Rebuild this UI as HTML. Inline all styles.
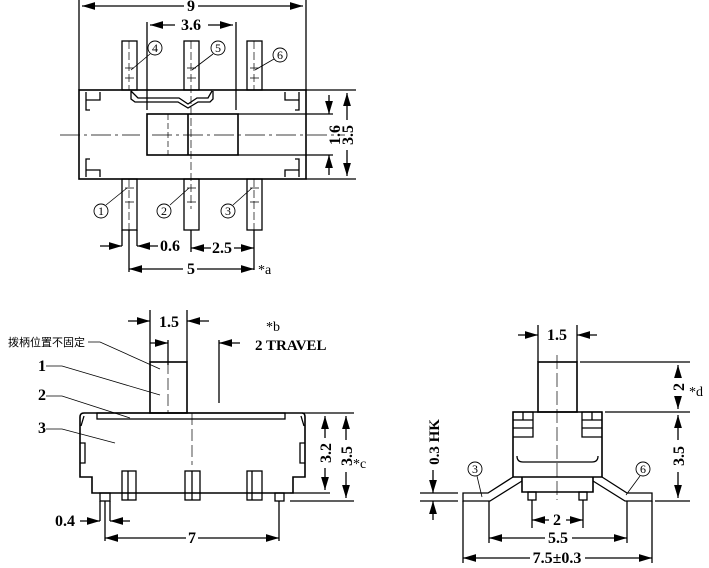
<!DOCTYPE html>
<html><head><meta charset="utf-8"><style>
body{margin:0;background:#fff}
svg{display:block}
text{font-family:"Liberation Serif","Noto Serif CJK SC",serif;font-weight:bold;font-size:16px;fill:#000}
.c{font-size:14px;font-weight:normal}
.cj{font-family:"Liberation Sans","Noto Sans CJK SC",sans-serif;font-size:11px;font-weight:normal}
.n{font-size:12px;font-weight:normal}
</style></head><body>
<svg width="709" height="568" viewBox="0 0 709 568" xmlns="http://www.w3.org/2000/svg">
<defs><marker id="a" viewBox="0 0 10 6" refX="10" refY="3" markerWidth="10" markerHeight="6" orient="auto-start-reverse"><path d="M0,0L10,3L0,6z" fill="#000"/></marker></defs>
<g stroke="#000" stroke-width="1.3" fill="none">
<!-- TOP VIEW -->
<rect x="79" y="90" width="227" height="89" stroke-width="1.6"/>
<rect x="147" y="114" width="91" height="41" stroke-width="1.6"/>
<line x1="188" y1="114" x2="188" y2="155" stroke-width="1.6"/>
<path d="M86,92v18h4M86,177v-18h4M299,92v18h-4M299,177v-18h-4M86,100h14v-8M86,170h14v7M299,100h-14v-8M299,170h-14v7"/>
<path d="M131,91v8l4,3h43l10,6l10,-6h12l3,-3v-8M131,91l7,7h41l9,6l9,-6h11l4,-7"/>
<g>
<rect x="122" y="41" width="15" height="49"/><rect x="184" y="41" width="15" height="49"/><rect x="247" y="41" width="15" height="49"/>
<rect x="122" y="179" width="15" height="51"/><rect x="184" y="179" width="15" height="51"/><rect x="247" y="179" width="15" height="51"/>
</g>
<path d="M129,41v49M191,41v168M254,41v49M129,179v51M254,179v51" stroke-width="0.7" stroke-dasharray="8,3"/>
<path d="M125,68h9M125,78h9M187,68h9M187,78h9M250,68h9M250,78h9M125,188h9M125,202h9M187,188h9M187,202h9M250,188h9M250,202h9" stroke-width="0.8"/>
<path d="M60,135h80M152,135h90M245,135h100" stroke-width="0.7" stroke-dasharray="20,4,3,4"/>
<line x1="168" y1="114" x2="168" y2="155" stroke-width="0.7" stroke-dasharray="6,3"/>
<!-- top dims -->
<path d="M79,0v90M306,0v90M147,22v88M236,22v88M306,90h50M306,179h50M238,114h95M238,155h95"/>
<line x1="82" y1="6" x2="184" y2="6" marker-start="url(#a)"/><line x1="198" y1="6" x2="303" y2="6" marker-end="url(#a)"/>
<line x1="150" y1="25" x2="175" y2="25" marker-start="url(#a)"/><line x1="208" y1="25" x2="233" y2="25" marker-end="url(#a)"/>
<line x1="329" y1="95" x2="329" y2="114" marker-end="url(#a)"/><line x1="329" y1="175" x2="329" y2="155" marker-end="url(#a)"/>
<line x1="347" y1="93" x2="347" y2="120" marker-start="url(#a)"/><line x1="347" y1="150" x2="347" y2="176" marker-end="url(#a)"/>
<path d="M122,230v16M137,230v16M191,230v22M254,230v40M129,230v42"/>
<line x1="100" y1="246" x2="122" y2="246" marker-end="url(#a)"/><line x1="158" y1="246" x2="137" y2="246" marker-end="url(#a)"/>
<line x1="211" y1="248" x2="191" y2="248" marker-end="url(#a)"/><line x1="234" y1="248" x2="254" y2="248" marker-end="url(#a)"/>
<line x1="183" y1="269" x2="129" y2="269" marker-end="url(#a)"/><line x1="197" y1="269" x2="254" y2="269" marker-end="url(#a)"/>
<!-- leaders -->
<path d="M150,54l-19,16M213,54l-21,16M274,59l-19,11M106,205l21,-17M170,205l19,-17M233,205l19,-17" stroke-width="0.8"/>
<circle cx="155" cy="48" r="7" stroke-width="0.9"/><circle cx="218" cy="48" r="7" stroke-width="0.9"/><circle cx="280" cy="55" r="7" stroke-width="0.9"/>
<circle cx="101" cy="211" r="7" stroke-width="0.9"/><circle cx="164" cy="211" r="7" stroke-width="0.9"/><circle cx="228" cy="211" r="7" stroke-width="0.9"/>

<!-- SIDE VIEW -->
<path d="M84,413h218q3,0 3,4v60h-12v16h-201v-16h-12v-60q0,-4 4,-4z" stroke-width="1.6"/>
<rect x="97" y="413" width="188" height="6"/>
<rect x="150" y="362" width="37" height="51" stroke-width="1.6"/>
<path d="M80,443h5v20h-5M305,443h-5v20h5M84,416l-3,10M301,416l3,10"/>
<rect x="122" y="471" width="14" height="29"/><rect x="185" y="471" width="15" height="29"/><rect x="247" y="471" width="15" height="29"/>
<path d="M128,471v29M252,471v29M192,471v29"/>
<rect x="100" y="493" width="10" height="8"/><rect x="275" y="493" width="9" height="8"/>
<line x1="192" y1="413" x2="192" y2="465" stroke-width="0.7" stroke-dasharray="12,4"/>
<line x1="168" y1="362" x2="168" y2="413" stroke-width="0.7" stroke-dasharray="12,4"/>
<path d="M150,310v52M187,310v52M219,340v63M168,340v25"/>
<line x1="128" y1="321" x2="150" y2="321" marker-end="url(#a)"/><line x1="209" y1="321" x2="187" y2="321" marker-end="url(#a)"/>
<line x1="150" y1="343" x2="168" y2="343" marker-end="url(#a)"/><line x1="240" y1="343" x2="219" y2="343" marker-end="url(#a)"/>
<path d="M302,413h52M290,493h40M290,501h64"/>
<line x1="325" y1="416" x2="325" y2="438" marker-start="url(#a)"/><line x1="325" y1="468" x2="325" y2="490" marker-end="url(#a)"/>
<line x1="346" y1="416" x2="346" y2="440" marker-start="url(#a)"/><line x1="346" y1="472" x2="346" y2="498" marker-end="url(#a)"/>
<path d="M100,501v20M105,501v40M110,501v20M279,501v40"/>
<line x1="80" y1="521" x2="100" y2="521" marker-end="url(#a)"/><line x1="130" y1="521" x2="110" y2="521" marker-end="url(#a)"/>
<line x1="186" y1="538" x2="105" y2="538" marker-end="url(#a)"/><line x1="198" y1="538" x2="279" y2="538" marker-end="url(#a)"/>
<path d="M88,342h12l60,27M46,366h16l98,29M46,396h16l68,22M46,429h16l53,14" stroke-width="0.8"/>

<!-- FRONT VIEW -->
<rect x="538" y="362" width="39" height="50" stroke-width="1.6"/>
<path d="M513,412h89v65h-89zM522,477h71v15h-71z" stroke-width="1.6"/>
<path d="M513,412h20v25h-20M602,412h-20v25h20M513,420h20M602,420h-20M513,428h20M602,428h-20M523,412v8M592,412v8M517,456q0,6 6,6h69q6,0 6,-6"/>
<rect x="528" y="492" width="8" height="8"/><rect x="579" y="492" width="8" height="8"/>
<path d="M513,477l-25,16h-25v8h27l32,-20M602,477l25,16h25v8h-27l-32,-20"/>
<line x1="557" y1="355" x2="557" y2="500" stroke-width="0.7" stroke-dasharray="14,4"/>
<path d="M538,325v37M577,325v37M580,362h110M605,412h85M655,501h35M420,493h38M420,501h38M532,500v28M583,500v28M489,501v42M627,501v42M463,501v62M652,501v62"/>
<line x1="518" y1="335" x2="538" y2="335" marker-end="url(#a)"/><line x1="597" y1="335" x2="577" y2="335" marker-end="url(#a)"/>
<line x1="678" y1="365" x2="678" y2="378" marker-start="url(#a)"/><line x1="678" y1="396" x2="678" y2="409" marker-end="url(#a)"/>
<line x1="678" y1="415" x2="678" y2="440" marker-start="url(#a)"/><line x1="678" y1="472" x2="678" y2="498" marker-end="url(#a)"/>
<line x1="433" y1="470" x2="433" y2="493" marker-end="url(#a)"/><line x1="433" y1="520" x2="433" y2="501" marker-end="url(#a)"/>
<line x1="549" y1="520" x2="532" y2="520" marker-end="url(#a)"/><line x1="566" y1="520" x2="583" y2="520" marker-end="url(#a)"/>
<line x1="545" y1="538" x2="489" y2="538" marker-end="url(#a)"/><line x1="572" y1="538" x2="627" y2="538" marker-end="url(#a)"/>
<line x1="530" y1="558" x2="463" y2="558" marker-end="url(#a)"/><line x1="585" y1="558" x2="652" y2="558" marker-end="url(#a)"/>
<path d="M477,476l5,21M640,476l-14,19" stroke-width="0.8"/>
<circle cx="475" cy="469" r="7" stroke-width="0.9"/><circle cx="643" cy="469" r="7" stroke-width="0.9"/>
</g>
<g>
<text x="191" y="11" text-anchor="middle">9</text>
<text x="191" y="30" text-anchor="middle">3.6</text>
<text x="155" y="52" text-anchor="middle" class="n">4</text>
<text x="218" y="52" text-anchor="middle" class="n">5</text>
<text x="280" y="59" text-anchor="middle" class="n">6</text>
<text x="101" y="215" text-anchor="middle" class="n">1</text>
<text x="164" y="215" text-anchor="middle" class="n">2</text>
<text x="228" y="215" text-anchor="middle" class="n">3</text>
<text transform="translate(340,135) rotate(-90)" text-anchor="middle">1.6</text>
<text transform="translate(353,135) rotate(-90)" text-anchor="middle">3.5</text>
<text x="170" y="251" text-anchor="middle">0.6</text>
<text x="222" y="253" text-anchor="middle">2.5</text>
<text x="191" y="274" text-anchor="middle">5</text>
<text x="258" y="274" class="c">*a</text>
<text x="169" y="327" text-anchor="middle">1.5</text>
<text x="266" y="331" class="c">*b</text>
<text x="255" y="350" style="font-size:15px">2 TRAVEL</text>
<text x="8" y="346" class="cj">拨柄位置不固定</text>
<text x="38" y="371">1</text><text x="38" y="400">2</text><text x="38" y="433">3</text>
<text transform="translate(331,453) rotate(-90)" text-anchor="middle">3.2</text>
<text transform="translate(352,456) rotate(-90)" text-anchor="middle">3.5</text>
<text x="353" y="468" class="c">*c</text>
<text x="55" y="526">0.4</text>
<text x="192" y="543" text-anchor="middle">7</text>
<text x="557" y="340" text-anchor="middle">1.5</text>
<text transform="translate(684,387) rotate(-90)" text-anchor="middle">2</text>
<text x="689" y="396" class="c">*d</text>
<text transform="translate(684,456) rotate(-90)" text-anchor="middle">3.5</text>
<text transform="translate(439,442) rotate(-90)" text-anchor="middle" style="font-size:15px">0.3 HK</text>
<text x="557" y="525" text-anchor="middle">2</text>
<text x="558" y="543" text-anchor="middle">5.5</text>
<text x="557" y="563" text-anchor="middle">7.5±0.3</text>
<text x="475" y="473" text-anchor="middle" class="n">3</text>
<text x="643" y="473" text-anchor="middle" class="n">6</text>
</g>
</svg>
</body></html>
